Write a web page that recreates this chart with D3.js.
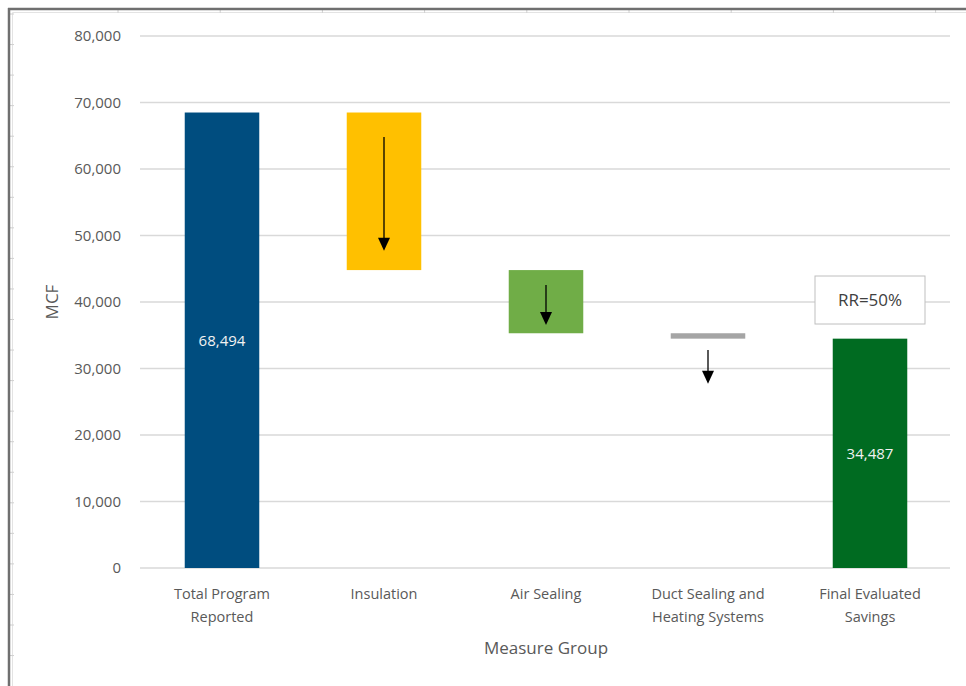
<!DOCTYPE html>
<html>
<head>
<meta charset="utf-8">
<script src="https://cdn.jsdelivr.net/npm/d3@7"></script>
<style>
    body { margin: 0; background: #fff; }
    svg { display: block; }
</style>
</head>
<body>
<svg class="chart"></svg>
<script>
let width = 966
let height = 686

const categories = ["Total Program Reported", "Insulation", "Air Sealing", "Duct Sealing and Heating Systems", "Final Evaluated Savings"]
const cat_lines = [["Total Program", "Reported"], ["Insulation"], ["Air Sealing"], ["Duct Sealing and", "Heating Systems"], ["Final Evaluated", "Savings"]]
const reported = 68494
const reductions = [23694, 9500, 813]
const final_savings = 34487
const bar_colors = ["#004d7f", "#ffc000", "#70ad47", "#a5a5a5", "#006b21"]
const arrows = [
    {cat: "Insulation", from: 64800, to: 47700},
    {cat: "Air Sealing", from: 42550, to: 36550},
    {cat: "Duct Sealing and Heating Systems", from: 32800, to: 27700}
]
const y_ticks = [0, 10000, 20000, 30000, 40000, 50000, 60000, 70000, 80000]
const rr_label = "RR=50%"
const rr_value = 40300

const margin = {top: 36, left: 141, right: 15, bottom: 118}

let svg = d3.select(".chart")
    .attr("width", width)
    .attr("height", height)

// build waterfall rows
let bars = []
bars.push({cat: categories[0], y0: 0, y1: reported, label: reported})
let level = reported
reductions.forEach((r, i) => {
    bars.push({cat: categories[i + 1], y0: level - r, y1: level, label: null})
    level -= r
})
bars.push({cat: categories[4], y0: 0, y1: final_savings, label: final_savings})

let xScale = d3.scaleBand()
    .domain(categories)
    .range([margin.left, width - margin.right])
    .paddingInner(0.54)
    .paddingOuter(0.27)

let yScale = d3.scaleLinear()
    .domain([0, 80000])
    .range([height - margin.bottom, margin.top])

// excel sheet frame
let frame = svg.append("g")
frame.append("line")
    .attr("x1", 12.5).attr("x2", width).attr("y1", 12.5).attr("y2", 12.5)
    .attr("stroke", "#e3e3e3")
frame.append("line")
    .attr("x1", 12.5).attr("x2", 12.5).attr("y1", 12.5).attr("y2", height)
    .attr("stroke", "#e3e3e3")
frame.selectAll("line.col")
    .data(d3.range(118, width, 102.2))
    .enter()
    .append("line")
    .attr("x1", d => d).attr("x2", d => d).attr("y1", 10).attr("y2", 13)
    .attr("stroke", "#d0d0d0")
frame.selectAll("line.row")
    .data(d3.range(14, height, 30.55))
    .enter()
    .append("line")
    .attr("x1", 10).attr("x2", 14).attr("y1", d => d).attr("y2", d => d)
    .attr("stroke", "#d0d0d0")
frame.append("line")
    .attr("x1", 8).attr("x2", width).attr("y1", 9).attr("y2", 9)
    .attr("stroke", "#6f6f6f").attr("stroke-width", 2.5)
frame.append("line")
    .attr("x1", 9).attr("x2", 9).attr("y1", 8).attr("y2", height)
    .attr("stroke", "#6f6f6f").attr("stroke-width", 2.5)

// gridlines
svg.append("g")
    .selectAll("line.grid")
    .data(y_ticks)
    .enter()
    .append("line")
    .attr("x1", margin.left - 1)
    .attr("x2", 950)
    .attr("y1", d => yScale(d))
    .attr("y2", d => yScale(d))
    .attr("stroke", "#d9d9d9")
    .attr("stroke-width", 1.3)

// y axis
let yAxis = svg.append("g")
    .attr("transform", `translate(${margin.left - 17}, 0)`)
    .call(d3.axisLeft(yScale).tickValues(y_ticks).tickSize(0).tickFormat(d3.format(",")))
yAxis.select(".domain").remove()
yAxis.selectAll("text")
    .attr("fill", "#595959")
    .style("font-family", "Open Sans")
    .style("font-size", "15px")

// bars
svg.append("g")
    .selectAll("rect.bar")
    .data(bars)
    .enter()
    .append("rect")
    .classed("bar", true)
    .attr("x", d => xScale(d.cat))
    .attr("width", xScale.bandwidth())
    .attr("y", d => yScale(d.y1))
    .attr("height", d => yScale(d.y0) - yScale(d.y1))
    .attr("fill", (d, i) => bar_colors[i])

svg.append("g")
    .selectAll("text.value")
    .data(bars.filter(d => d.label !== null))
    .enter()
    .append("text")
    .attr("x", d => xScale(d.cat) + xScale.bandwidth() / 2)
    .attr("y", d => yScale((d.y0 + d.y1) / 2))
    .attr("dy", "0.35em")
    .attr("text-anchor", "middle")
    .attr("fill", "#f2f2f2")
    .style("font-family", "Open Sans")
    .style("font-size", "15px")
    .text(d => d3.format(",")(d.label))

// arrows
let arrow_g = svg.append("g")
    .selectAll("g.arrow")
    .data(arrows)
    .enter()
    .append("g")
let cx = d => xScale(d.cat) + xScale.bandwidth() / 2
arrow_g.append("line")
    .attr("x1", cx).attr("x2", cx)
    .attr("y1", d => yScale(d.from))
    .attr("y2", d => yScale(d.to) - 10)
    .attr("stroke", "#000")
    .attr("stroke-width", 1.3)
arrow_g.append("path")
    .attr("d", d => {
        let x = cx(d), y = yScale(d.to)
        return `M${x - 6},${y - 13}L${x + 6},${y - 13}L${x},${y}Z`
    })
    .attr("fill", "#000")

// RR box
let rr = svg.append("g")
    .attr("transform", `translate(${xScale(categories[4]) + xScale.bandwidth() / 2}, ${yScale(rr_value)})`)
rr.append("rect")
    .attr("x", -55).attr("y", -24).attr("width", 110).attr("height", 48)
    .attr("fill", "#fff")
    .attr("stroke", "#bfbfbf")
rr.append("text")
    .attr("text-anchor", "middle")
    .attr("dy", "0.35em")
    .attr("fill", "#404040")
    .style("font-family", "Open Sans")
    .style("font-size", "17px")
    .text(rr_label)

// category labels
let cat_g = svg.append("g")
    .selectAll("text.cat")
    .data(categories)
    .enter()
    .append("text")
    .attr("text-anchor", "middle")
    .attr("fill", "#595959")
    .style("font-family", "Open Sans")
    .style("font-size", "14.5px")
cat_g.selectAll("tspan")
    .data((d, i) => cat_lines[i].map(t => ({t: t, c: d})))
    .enter()
    .append("tspan")
    .attr("x", d => xScale(d.c) + xScale.bandwidth() / 2)
    .attr("y", (d, i) => 599 + i * 22.5)
    .text(d => d.t)

// axis titles
svg.append("text")
    .attr("x", (margin.left + width - margin.right) / 2)
    .attr("y", 654)
    .attr("text-anchor", "middle")
    .attr("fill", "#595959")
    .style("font-family", "Open Sans")
    .style("font-size", "17px")
    .text("Measure Group")

svg.append("text")
    .attr("transform", `translate(58, ${yScale(40000)}) rotate(-90)`)
    .attr("text-anchor", "middle")
    .attr("fill", "#595959")
    .style("font-family", "Open Sans")
    .style("font-size", "17px")
    .text("MCF")
</script>
</body>
</html>
